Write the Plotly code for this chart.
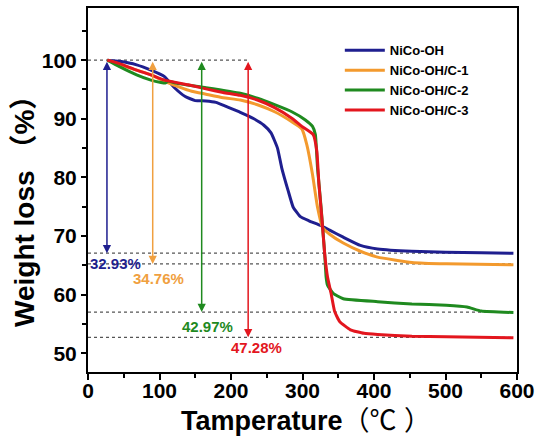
import plotly.graph_objects as go

# ---------------- data ----------------
names = ["NiCo-OH", "NiCo-OH/C-1", "NiCo-OH/C-2", "NiCo-OH/C-3"]
colors = ["#1f1f8f", "#f39a2e", "#1f8a1f", "#e3161e"]

t_oh = [27, 44, 68, 88, 107, 121, 136, 150, 165, 179, 193, 213, 232, 246, 256, 265, 271, 280, 287, 297, 309, 326, 338, 357, 381, 405, 453, 500, 550, 595]
w_oh = [100, 99.8, 99.2, 98.3, 97.2, 95.3, 93.8, 93.1, 93.05, 92.8, 92.1, 91.1, 90.0, 88.9, 87.6, 85.0, 81.6, 77.7, 74.9, 73.3, 72.6, 71.75, 71.0, 69.8, 68.4, 67.8, 67.4, 67.25, 67.15, 67.05]

t_c1 = [27, 44, 68, 88, 107, 126, 145, 165, 189, 213, 237, 261, 285, 299, 306, 314, 321, 328, 338, 357, 381, 405, 453, 501, 595]
w_c1 = [100, 99.3, 98.3, 97.5, 96.4, 95.5, 94.7, 94.2, 93.6, 93.2, 92.4, 91.2, 89.5, 88.3, 85.6, 80.5, 74.9, 71.5, 70.3, 68.8, 67.4, 66.4, 65.5, 65.25, 65.1]

t_c2 = [27, 44, 68, 88, 102, 108, 112, 126, 165, 213, 237, 261, 285, 304, 314, 318, 321, 326, 331, 333, 335, 343, 357, 405, 453, 501, 530, 550, 595]
w_c2 = [100, 98.9, 97.5, 96.6, 96.2, 96.1, 96.4, 96.0, 95.3, 94.35, 93.5, 92.4, 91.2, 89.8, 88.7, 87.3, 81.6, 74.9, 67.0, 63.0, 61.6, 60.2, 59.3, 58.8, 58.4, 58.2, 57.9, 57.2, 56.95]

t_c3 = [27, 44, 68, 88, 107, 140, 165, 189, 213, 237, 261, 285, 299, 315, 320, 323, 327, 331, 335, 340, 345, 352, 367, 386, 405, 453, 501, 595]
w_c3 = [100, 99.4, 98.3, 97.5, 96.6, 95.8, 95.1, 94.5, 94.0, 93.2, 91.9, 90.1, 88.7, 87.3, 84.5, 78.8, 73.2, 67.0, 63.0, 60.2, 57.1, 55.4, 54.0, 53.4, 53.2, 52.9, 52.8, 52.65]

temps = [t_oh, t_c1, t_c2, t_c3]
weights = [w_oh, w_c1, w_c2, w_c3]

loss_pct = [32.93, 34.76, 42.97, 47.28]
loss_labels = ["32.93%", "34.76%", "42.97%", "47.28%"]
arrow_x = [26.5, 90.5, 159, 224]
label_x = [38.6, 98.7, 166.8, 235]
label_y = [65.3, 62.7, 54.5, 50.9]
label_colors = ["#1f1f8f", "#f0a040", "#1f8a1f", "#e3161e"]

FONT = "Liberation Sans, Arial, Noto Sans CJK SC, sans-serif"

fig = go.Figure()

# reference dotted lines
fig.add_trace(go.Scatter(x=[0, 224], y=[100, 100], mode="lines",
                         line=dict(color="#555555", width=1.3, dash="dot"),
                         showlegend=False, hoverinfo="skip"))
for p in loss_pct:
    fig.add_trace(go.Scatter(x=[0, 595], y=[100 - p, 100 - p], mode="lines",
                             line=dict(color="#555555", width=1.3, dash="dot"),
                             showlegend=False, hoverinfo="skip"))

for n, c, t, w in zip(names, colors, temps, weights):
    fig.add_trace(go.Scatter(x=t, y=w, mode="lines", name=n,
                             line=dict(color=c, width=3, shape="spline", smoothing=0.4)))

annotations = []
for ax_, p, c in zip(arrow_x, loss_pct, label_colors):
    annotations.append(dict(x=ax_, y=100 - p, ax=ax_, ay=100, xref="x", yref="y",
                            axref="x", ayref="y", text="", showarrow=True,
                            arrowhead=2, arrowside="end+start", arrowsize=1.1,
                            arrowwidth=1.5, arrowcolor=c, standoff=0, startstandoff=0))
for lx, ly, txt, c in zip(label_x, label_y, loss_labels, label_colors):
    annotations.append(dict(x=lx, y=ly, xref="x", yref="y", text="<b>" + txt + "</b>", showarrow=False,
                            font=dict(family=FONT, size=15, color=c)))

# axis titles
annotations.append(dict(x=0, y=0.5, xref="paper", yref="paper", xshift=-64, yshift=-15,
                        xanchor="center", yanchor="middle",
                        text="<b>Weight loss</b> <b>（%）</b>", textangle=-90, showarrow=False,
                        font=dict(family=FONT, size=28, color="black")))
annotations.append(dict(x=0.5, y=0, xref="paper", yref="paper", yshift=-49, xshift=3,
                        xanchor="center", yanchor="middle",
                        text="<b>Tamperature</b>（℃ ）", showarrow=False,
                        font=dict(family=FONT, size=27, color="black")))

fig.update_layout(
    width=541, height=438,
    margin=dict(l=88, r=22, t=6, b=66),
    paper_bgcolor="white", plot_bgcolor="white",
    annotations=annotations,
    legend=dict(x=0.587, y=0.925, xanchor="left", yanchor="top",
                font=dict(family=FONT, size=13, color="black", weight="bold"),
                bgcolor="rgba(0,0,0,0)", tracegroupgap=0, itemwidth=40),
)

fig.update_xaxes(range=[0, 600], tickmode="linear", tick0=0, dtick=100,
                 ticks="outside", ticklen=6, tickwidth=2, tickcolor="black",
                 showline=True, linewidth=2, linecolor="black", mirror=True,
                 showgrid=False, zeroline=False, ticklabelstandoff=-7,
                 tickfont=dict(family=FONT, size=21, color="black", weight="bold"),
                 minor=dict(dtick=50, ticks="outside", ticklen=4, tickwidth=2, tickcolor="black"))
fig.update_yaxes(range=[46.8, 108.9], tickmode="linear", tick0=0, dtick=10,
                 ticks="outside", ticklen=5, tickwidth=2, tickcolor="black",
                 showline=True, linewidth=2, linecolor="black", mirror=True,
                 showgrid=False, zeroline=False,
                 tickfont=dict(family=FONT, size=21, color="black", weight="bold"),
                 minor=dict(dtick=5, ticks="outside", ticklen=4, tickwidth=2, tickcolor="black"))

fig.write_html("out.html", config={"displayModeBar": False},
               post_script="document.body.style.margin='0px';")
